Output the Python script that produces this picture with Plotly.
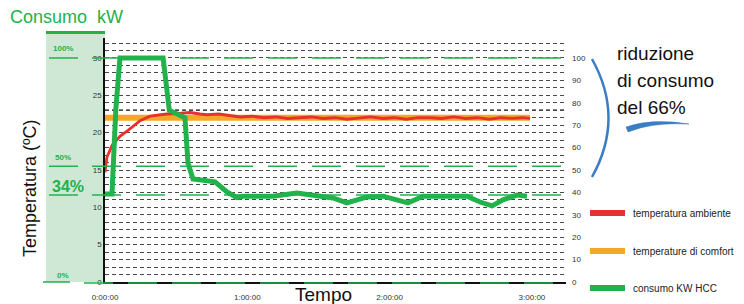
import plotly.graph_objects as go

# ---------------- data ----------------
time_ticks = [0, 60, 120, 180]
time_labels = ["0:00:00", "1:00:00", "2:00:00", "3:00:00"]
temp_ticks = [0, 5, 10, 15, 20, 25, 30]
pct_ticks = [0, 10, 20, 30, 40, 50, 60, 70, 80, 90, 100]

# temperatura ambiente (°C) vs minutes
amb_t = [0, 0.8, 3, 6.3, 9.7, 14.8, 19, 26, 32, 36, 40, 43, 48, 52, 57, 62, 67, 72, 77, 82,
         87, 92, 97, 102, 107, 112, 117, 122, 127, 132, 137, 142, 147, 152, 157, 162, 167, 172, 176, 179.2]
amb_v = [14.7, 16.7, 18.3, 19.5, 20.3, 21.6, 22.2, 22.5, 22.6, 22.7, 22.5, 22.4, 22.5, 22.3, 22.1, 22.2,
         22.0, 22.1, 21.9, 22.0, 22.1, 21.9, 22.0, 21.8, 22.0, 22.1, 21.9, 22.0, 21.8, 22.0, 22.0, 21.9,
         22.1, 21.9, 22.0, 21.8, 22.0, 21.9, 22.0, 21.9]

# temperature di comfort (°C)
comfort_t = [0, 179.2]
comfort_v = [22.0, 22.0]

# consumo KW HCC (% of max) vs minutes
cons_t = [0, 2.95, 4.6, 6.3, 24.5, 27.1, 33.7, 35.0, 37.1, 46.4, 51.4, 55.6, 58.2, 70.8, 80.9, 91.9,
          96.1, 102.0, 106.2, 110.5, 117.2, 123.1, 127.7, 134.1, 141.2, 152.6, 158.1, 163.2, 167.8,
          173.7, 177.9]
cons_pct = [39.3, 39.3, 77.7, 100, 100, 76.7, 73.3, 53.0, 46.0, 44.7, 40.2, 37.7, 38.3, 38.3, 39.7,
            38.3, 37.5, 35.3, 36.7, 38.0, 38.3, 36.7, 35.3, 38.3, 38.3, 38.3, 35.7, 34.0, 36.7, 38.8, 38.3]

# reference levels of consumption (left-axis °C scale) and their labels
ref_levels = [30, 15.5, 11.65, 0]
ref_labels = ["100%", "50%", "34%", "0%"]

# ---------------- layout geometry (screen pixels; page has an 8px body margin) ----------------
OFF = 8
W, H = 744 - OFF, 304 - OFF
L, R, T, B = 105, 566, 38, 282          # plot area in screen pixels
XMAX = (R - L) / 2.372
YMAX = (B - T) / 7.467
Y2MAX = YMAX * 10 / 3

GREEN = "#22b24c"
RED = "#e8302c"
ORANGE = "#f6a823"
BLUE = "#3b7dc4"
GRID = "#4a4a4a"
FONT = "Liberation Sans, Arial, sans-serif"


def px(x):
    return (x - L) / (R - L)


def py(y):
    return (B - y) / (B - T)


def vy(v):
    return v / YMAX


fig = go.Figure()
fig.add_trace(go.Scatter(x=comfort_t, y=comfort_v, mode="lines", name="temperature di comfort",
                         line=dict(color=ORANGE, width=6)))
fig.add_trace(go.Scatter(x=amb_t, y=amb_v, mode="lines", name="temperatura ambiente",
                         line=dict(color=RED, width=2.8)))
fig.add_trace(go.Scatter(x=cons_t, y=cons_pct, mode="lines", name="consumo KW HCC", yaxis="y2",
                         line=dict(color=GREEN, width=5)))

shapes = []
annotations = []

# left light-green panel
shapes.append(dict(type="rect", xref="paper", yref="paper", x0=px(46), x1=px(105), y0=py(282), y1=py(34),
                   fillcolor="#cfe8d6", line=dict(width=0), layer="below"))
shapes.append(dict(type="line", xref="paper", yref="paper", x0=px(46), x1=px(105), y0=py(32.5), y1=py(32.5),
                   line=dict(color=GREEN, width=3)))

# darker grid line near 23
shapes.append(dict(type="line", xref="paper", yref="paper", x0=0, x1=1, y0=vy(23), y1=vy(23),
                   line=dict(color="#000", width=1.6, dash="4px,3px"), layer="below"))

# green reference lines
for lv, lab in zip(ref_levels, ref_labels):
    yp = vy(lv)
    if lv == 0:
        shapes.append(dict(type="line", xref="paper", yref="paper", x0=px(43), x1=px(70), y0=yp, y1=yp,
                           line=dict(color=GREEN, width=1.5)))
        x_start = 84
        lift = 7
        yp_line = yp - 1 / (B - T)
    else:
        shapes.append(dict(type="line", xref="paper", yref="paper", x0=px(49), x1=px(78), y0=yp, y1=yp,
                           line=dict(color=GREEN, width=1.5)))
        x_start = 92
        lift = 9
        yp_line = yp
    shapes.append(dict(type="line", xref="paper", yref="paper", x0=px(x_start), x1=1, y0=yp_line, y1=yp_line,
                       line=dict(color=GREEN, width=1.5, dash="29px,15px")))
    big = lab == "34%"
    annotations.append(dict(xref="paper", yref="paper", x=px(68 if big else 63),
                            y=yp + lift / (B - T),
                            text=f"<b>{lab}</b>", showarrow=False, xanchor="center", yanchor="middle",
                            font=dict(family=FONT, size=16 if big else 8, color=GREEN)))

# blue bracket and swoosh
shapes.append(dict(type="path", xref="paper", yref="paper",
                   path=f"M {px(592)} {py(59)} Q {px(625)} {py(118)} {px(592)} {py(177)}",
                   line=dict(color=BLUE, width=2.5)))
shapes.append(dict(type="path", xref="paper", yref="paper",
                   path=(f"M {px(626)} {py(127)} Q {px(652)} {py(118)} {px(689)} {py(124)} "
                         f"Q {px(652)} {py(122)} {px(628)} {py(132)} Z"),
                   fillcolor=BLUE, line=dict(color=BLUE, width=0.5)))

# custom legend
legend_items = [("temperatura ambiente", RED, 213), ("temperature di comfort", ORANGE, 251),
                ("consumo KW HCC", GREEN, 288)]
for name, col, yc in legend_items:
    shapes.append(dict(type="rect", xref="paper", yref="paper", x0=px(590), x1=px(625),
                       y0=py(yc + 3), y1=py(yc - 3), fillcolor=col, line=dict(width=0)))
    annotations.append(dict(xref="paper", yref="paper", x=px(631), y=py(yc), text=name, showarrow=False,
                            xanchor="left", yanchor="middle", font=dict(family=FONT, size=10, color="#222")))

# titles / texts
annotations.append(dict(xref="paper", yref="paper", x=px(8), y=py(17), text="Consumo  kW", showarrow=False,
                        xanchor="left", yanchor="middle", font=dict(family=FONT, size=18, color=GREEN)))
annotations.append(dict(xref="paper", yref="paper", x=px(30), y=py(188), text="Temperatura (ºC)",
                        showarrow=False, textangle=-90, xanchor="center", yanchor="middle",
                        font=dict(family=FONT, size=18, color="#111")))
annotations.append(dict(xref="paper", yref="paper", x=px(323), y=py(282), text="Tempo", showarrow=False,
                        xanchor="center", yanchor="top", font=dict(family=FONT, size=19, color="#111")))
for txt, yc in [("riduzione", 53), ("di consumo", 80), ("del 66%", 107)]:
    annotations.append(dict(xref="paper", yref="paper", x=px(615), y=py(yc), text=txt, showarrow=False,
                            xanchor="left", yanchor="middle", font=dict(family=FONT, size=19, color="#111")))

fig.update_layout(
    template="none",
    width=W, height=H,
    autosize=False,
    margin=dict(l=L - OFF, r=744 - R, t=T - OFF, b=304 - B, pad=0, autoexpand=False),
    paper_bgcolor="white", plot_bgcolor="rgba(0,0,0,0)",
    showlegend=False,
    font=dict(family=FONT, color="#333"),
    xaxis=dict(range=[0, XMAX], tickvals=time_ticks, ticktext=time_labels, showgrid=False, zeroline=False,
               showline=True, linecolor="#111", linewidth=1.5, ticks="", ticklabelstandoff=7,
               automargin=False, tickfont=dict(size=8, color="#333")),
    yaxis=dict(range=[0, YMAX], tickvals=temp_ticks, showgrid=True, zeroline=False, showline=True,
               linecolor="#111", linewidth=1.5, ticks="", tickfont=dict(size=8, color="#333"),
               automargin=False,
               minor=dict(dtick=1, showgrid=True, gridcolor=GRID, gridwidth=1, griddash="4px,3px"),
               gridcolor=GRID, gridwidth=1, griddash="4px,3px", layer="below traces"),
    yaxis2=dict(range=[0, Y2MAX], overlaying="y", side="right", tickvals=pct_ticks, showgrid=False,
                zeroline=False, showline=False, ticks="", ticklabelstandoff=5, automargin=False,
                tickfont=dict(size=8, color="#333")),
    shapes=shapes,
    annotations=annotations,
)

fig.write_html("out.html")
